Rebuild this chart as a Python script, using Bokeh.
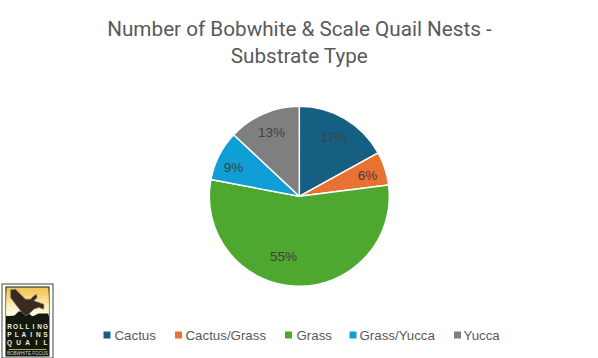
from bokeh.plotting import figure
from bokeh.embed import file_html
from bokeh.resources import INLINE
from bokeh.core.properties import value
from bokeh.models import Range1d
import numpy as np

categories = ["Cactus", "Cactus/Grass", "Grass", "Grass/Yucca", "Yucca"]
percent = [17, 6, 55, 9, 13]
colors = ["#156082", "#E97132", "#4EA72E", "#0F9ED5", "#7F7F7F"]
title_lines = ["Number of Bobwhite & Scale Quail Nests -", "Substrate Type"]

# layout (page pixels)
label_xy = [(333, 137), (367, 175), (283, 256), (233, 167), (271, 132)]
legend_sq_x = [106.5, 178, 288, 352.5, 457]
legend_tx_x = [114, 185, 296, 359, 463]
CX, CY, R = 298.8, 195.8, 90
FONT = value("Liberation Sans")

p = figure(width=598, height=358, output_backend="svg", toolbar_location=None,
           x_range=Range1d(0, 598), y_range=Range1d(358, 0), min_border=0)
p.axis.visible = False
p.grid.visible = False
p.outline_line_color = None
p.background_fill_color = "white"

# pie: clockwise from 12 o'clock (y axis is flipped)
fr = np.cumsum([0] + percent) / sum(percent)
a0 = -np.pi / 2 + 2 * np.pi * fr[:-1]
a1 = -np.pi / 2 + 2 * np.pi * fr[1:]
p.wedge(x=CX, y=CY, radius=R, start_angle=-a0, end_angle=-a1, direction="clock",
        fill_color=colors, line_color="white", line_width=1.5)

p.text(x=[c[0] for c in label_xy], y=[c[1] for c in label_xy], text=[f"{v}%" for v in percent],
       text_align="center", text_baseline="middle", text_color="#404040",
       text_font=FONT, text_font_size="13.5px")

# title
p.text(x=[299, 299], y=[28.5, 55.5], text=title_lines, text_align="center", text_baseline="middle",
       text_color="#595959", text_font=value("Roboto"), text_font_size="20.7px")

# legend
p.rect(x=legend_sq_x, y=[334.5] * 5, width=7, height=7, fill_color=colors, line_color=None)
p.text(x=legend_tx_x, y=[334.5] * 5, text=categories, text_align="left", text_baseline="middle",
       text_color="#595959", text_font=FONT, text_font_size="13.3px")

# logo
DARK = "#14190f"
p.quad(left=[1], right=[53], top=[283], bottom=[358], fill_color="#3c4a3c", line_color=None)
p.quad(left=[2], right=[52], top=[284], bottom=[357], fill_color="white", line_color=None)
p.quad(left=[5], right=[49], top=[286], bottom=[356], fill_color=DARK, line_color=None)
sky = ["#f4c757", "#f6cf6d", "#f8d985", "#fae39f", "#fcecb9", "#fdf3d0", "#fef8e2"]
for i, c in enumerate(sky):
    p.quad(left=[6], right=[48], top=[287 + i * 4], bottom=[315], fill_color=c, line_color=None)
p.patch(x=[6, 14, 18, 26, 32, 38, 48, 48, 6], y=[316, 315, 311, 311, 316, 313, 313, 323, 323],
        fill_color=DARK, line_color=None)
bird_x = np.array([30, 45, 60, 75, 90, 100, 108, 110, 100, 130, 130, 115, 100, 85, 75, 60, 45, 30]) / 3
bird_y = np.array([22, 20, 35, 50, 50, 40, 35, 45, 55, 65, 80, 75, 80, 95, 100, 85, 65, 45]) / 3 + 282
p.patch(x=bird_x, y=bird_y, fill_color="#3a2a20", line_color="#8d8672", line_width=0.6)
for word, y in zip(["ROLLING", "PLAINS", "QUAIL"], [325.5, 333.5, 341.5]):
    xs = np.linspace(9, 45, len(word))
    p.text(x=xs, y=[y] * len(word), text=list(word), text_align="center", text_baseline="middle",
           text_color="#f1efd8", text_font=FONT, text_font_size="6.5px", text_font_style="bold")
p.quad(left=[8], right=[46], top=[348.5], bottom=[349.5], fill_color="#b9a75f", line_color=None)
p.text(x=[27], y=[353], text=["BOBWHITE FOCUS"], text_align="center", text_baseline="middle",
       text_color="#d8d4bf", text_font=FONT, text_font_size="4.5px")

open("out.html", "w").write(file_html(p, INLINE))
